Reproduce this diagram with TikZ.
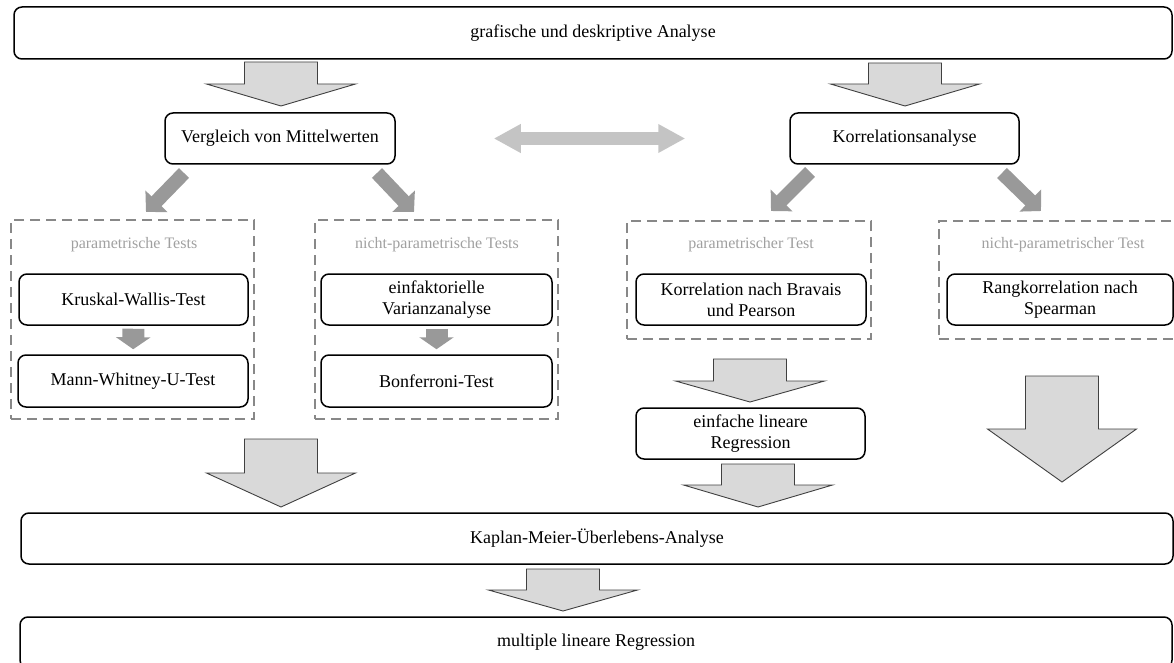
\documentclass[tikz,border=0pt]{standalone}
\usepackage{fontspec}
\setmainfont{Liberation Serif}
\usetikzlibrary{arrows.meta,calc}
\definecolor{blockfill}{HTML}{D9D9D9}
\definecolor{blockline}{HTML}{404040}
\definecolor{diagfill}{HTML}{999999}
\definecolor{dblfill}{HTML}{C4C4C4}
\definecolor{dashcol}{HTML}{888888}
\definecolor{labcol}{HTML}{A0A0A0}
\newcommand\blockarr[4]{%
  \draw[blockarrow] (#1-36.5,#2) -- (#1+36.5,#2) -- (#1+36.5,#3) -- (#1+74.5,#3)
    -- (#1,#4) -- (#1-74.5,#3) -- (#1-36.5,#3) -- cycle;}
\begin{document}
\begin{tikzpicture}[x=1pt,y=-1pt,
  box/.style={draw, line width=1.5pt, rounded corners=8pt, fill=white,
    minimum height=51pt, inner sep=2pt, font=\fontsize{18}{21}\selectfont, align=center},
  dbox/.style={draw=dashcol, line width=2.5pt, dash pattern=on 10pt off 6pt, inner sep=0pt},
  lab/.style={text=labcol, font=\fontsize{16}{19}\selectfont, inner sep=0pt},
  blockarrow/.style={fill=blockfill, draw=blockline, line width=0.9pt, line join=miter},
  diagarrow/.style={draw=diagfill, line width=14pt, -{Triangle[length=15pt,width=30pt]}},
  smallarrow/.style={draw=diagfill, line width=22pt, -{Triangle[length=12pt,width=34pt]}},
  dblarrow/.style={draw=dblfill, line width=13pt,
    {Triangle[length=27pt,width=27pt]}-{Triangle[length=27pt,width=27pt]}}]
\useasboundingbox (0,0) rectangle (1174,663);

% dashed group boxes
\node[dbox, minimum width=243pt, minimum height=199pt] (d1) at (132.5,319.5) {};
\node[dbox, minimum width=243pt, minimum height=199pt] (d2) at (436.5,319.5) {};
\node[dbox, minimum width=244pt, minimum height=118pt] (d3) at (749,280) {};
\node[dbox, minimum width=241pt, minimum height=118pt] (d4) at (1059.5,280) {};
\node[lab] (l1) at (134,245) {parametrische Tests};
\node[lab] (l2) at (437,245) {nicht-parametrische Tests};
\node[lab] (l3) at (751,245) {parametrischer Test};
\node[lab] (l4) at (1063,245) {nicht-parametrischer Test};

% boxes
\node[box, minimum width=1158pt, minimum height=52pt] (top) at (593,33) {grafische und deskriptive Analyse};
\node[box, minimum width=230pt] (verg) at (280,138.5) {Vergleich von Mittelwerten};
\node[box, minimum width=229pt] (korr) at (904.5,138.5) {Korrelationsanalyse};
\node[box, minimum width=229pt] (kw) at (133.5,299.5) {Kruskal-Wallis-Test};
\node[box, minimum width=230pt, minimum height=52pt] (mw) at (133,381) {Mann-Whitney-U-Test};
\node[box, minimum width=231pt] (einf) at (436.5,299.5) {einfaktorielle\\Varianzanalyse};
\node[box, minimum width=231pt, minimum height=52pt] (bonf) at (436.5,381) {Bonferroni-Test};
\node[box, minimum width=230pt] (brav) at (751,299.5) {Korrelation nach Bravais\\und Pearson};
\node[box, minimum width=226pt] (rang) at (1060,299.5) {Rangkorrelation nach\\Spearman};
\node[box, minimum width=229pt] (elr) at (750.5,433.5) {einfache lineare\\Regression};
\node[box, minimum width=1152pt] (kap) at (597,538.5) {Kaplan-Meier-Überlebens-Analyse};
\node[box, minimum width=1152pt] (mlr) at (596,642.5) {multiple lineare Regression};

% block arrows
\blockarr{281}{62}{84}{106}
\blockarr{905}{63}{84}{106}
\blockarr{750}{359}{381}{402}
\blockarr{758}{464}{485}{507}
\blockarr{1062}{376}{429}{482}
\blockarr{281}{439}{473}{507}
\blockarr{563}{569}{590}{611}

% diagonal arrows
\coordinate (v1s) at (184,173); \coordinate (v1t) at (146,212);
\coordinate (v2s) at (377,173); \coordinate (v2t) at (414,212);
\coordinate (k1s) at (810,172); \coordinate (k1t) at (771,211);
\coordinate (k2s) at (1002,173); \coordinate (k2t) at (1041,211);
\draw[diagarrow] (v1s) -- (v1t);
\draw[diagarrow] (v2s) -- (v2t);
\draw[diagarrow] (k1s) -- (k1t);
\draw[diagarrow] (k2s) -- (k2t);

% small arrows inside groups
\draw[smallarrow, shorten <=3pt, shorten >=5pt] (kw) -- (mw);
\draw[smallarrow, shorten <=3pt, shorten >=5pt] (einf) -- (bonf);

% double arrow
\draw[dblarrow, shorten <=98pt, shorten >=104pt] (verg) -- (korr);
\end{tikzpicture}
\end{document}
